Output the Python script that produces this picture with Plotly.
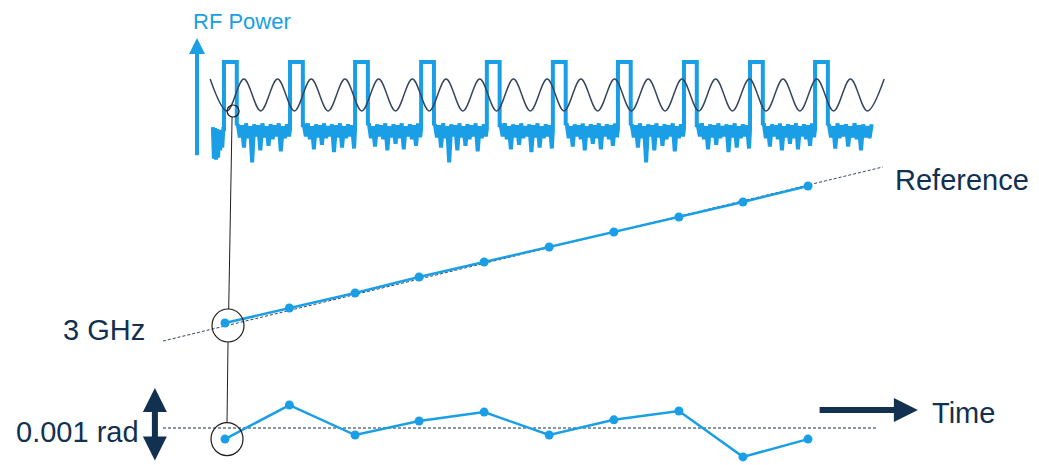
import numpy as np
import plotly.graph_objects as go

# the page body adds an 8px margin, so the figure is drawn 8px smaller
OFF = 8
W, H = 1039 - OFF, 465 - OFF
BLUE = "#1a9fe6"
NAVY = "#12304f"
WAVE = "#34465e"
FONT = "Liberation Sans, Arial, sans-serif"

# time is measured in carrier cycles (3 GHz period)
pulse_starts = [0.41, 2.37, 4.30, 6.26, 8.21, 10.17, 12.10, 14.06, 16.02, 17.95]
pulse_width = 0.38
pulse_top = 1.0
noise_end = 19.63

# RF floor between pulses (power, arb. units)
lead_in_noise = [0.30, -0.04, 0.29, -0.05, 0.28, -0.03, 0.27, 0.05, 0.26, 0.08, 0.28]
floor_noise = [
    [0.33, 0.19, 0.32, 0.08, 0.34, 0.18, 0.31, -0.08, 0.33, 0.20, 0.32, 0.05, 0.34,
     0.19, 0.31, 0.10, 0.33, 0.17, 0.32, 0.20, 0.34, 0.04, 0.31, 0.18, 0.33, 0.20],
    [0.32, 0.20, 0.34, 0.17, 0.31, 0.06, 0.33, 0.19, 0.32, 0.11, 0.34, 0.18, 0.31,
     0.20, 0.33, 0.03, 0.32, 0.19, 0.34, 0.08, 0.31, 0.18, 0.33, 0.20, 0.32, 0.07],
    [0.34, 0.18, 0.31, 0.09, 0.33, 0.20, 0.32, 0.17, 0.34, 0.05, 0.31, 0.19, 0.33,
     0.12, 0.32, 0.18, 0.34, 0.06, 0.31, 0.20, 0.33, 0.17, 0.32, 0.10, 0.34, 0.19],
]
tail_noise = [0.33, 0.19, 0.31, 0.07, 0.34, 0.18, 0.32, 0.20, 0.33, 0.09, 0.31,
              0.19, 0.34, 0.17, 0.32, 0.05, 0.33, 0.19, 0.31, 0.18, 0.33]

# 3 GHz reference waveform, read as its peaks and troughs
carrier_t = [0, 0.5, 1, 1.5, 2, 2.5, 3, 3.5, 4, 4.5, 5, 5.5, 6, 6.5, 7, 7.5, 8,
             8.5, 9, 9.5, 10, 10.5, 11, 11.5, 12, 12.5, 13, 13.5, 14, 14.5, 15,
             15.5, 16, 16.5, 17, 17.5, 18, 18.5, 19, 19.5, 20]
carrier_level = [1, -1, 1, -1, 1, -1, 1, -1, 1, -1, 1, -1, 1, -1, 1, -1, 1,
                 -1, 1, -1, 1, -1, 1, -1, 1, -1, 1, -1, 1, -1, 1,
                 -1, 1, -1, 1, -1, 1, -1, 1, -1, 1]

# sampled phase vs the reference ramp
sample_t = [0.44, 2.35, 4.30, 6.20, 8.13, 10.06, 11.98, 13.91, 15.81, 17.74]
tracked_phase = [1.8, 3.3, 4.8, 6.4, 7.9, 9.4, 10.9, 12.4, 13.9, 15.5]
reference_t = [-1.40, 19.96]
reference_phase = [0.0, 17.4]

# residual phase error, microradians
phase_error = [-150, 310, -95, 95, 215, -95, 110, 230, -390, -150]
zero_t = [-1.40, 19.79]
zero_level = [0, 0]
scale_bar = [-460, 540]  # 0.001 rad

X_RANGE = [-5.999, 24.595]
RF_RANGE = [-3.3333, 1.5806]
WAVE_RANGE = [-23.125, 5.4375]
PHASE_RANGE = [-12.4, 33.3]
ERR_RANGE = [-499.5, 5670.0]


def paper_y(value, rng):
    return (value - rng[0]) / (rng[1] - rng[0])


def px(x):
    return (x - OFF) / W


def py(y):
    return 1 - (y - OFF) / H


# assemble the pulse train
rf_t, rf_p = [], []
lead_t = np.linspace(pulse_starts[0] - 0.33, pulse_starts[0] - 0.02, len(lead_in_noise))
rf_t += list(lead_t)
rf_p += lead_in_noise
for k, start in enumerate(pulse_starts):
    stop = start + pulse_width
    rf_t += [start, start, stop, stop]
    rf_p += [0.28, pulse_top, pulse_top, 0.32]
    if k + 1 < len(pulse_starts):
        seg = floor_noise[k % len(floor_noise)]
        gap_t = np.linspace(stop + 0.03, pulse_starts[k + 1] - 0.03, len(seg))
    else:
        seg = tail_noise
        gap_t = np.linspace(stop + 0.03, noise_end, len(seg))
    rf_t += list(gap_t)
    rf_p += seg

fig = go.Figure()
fig.add_trace(go.Scatter(x=rf_t, y=rf_p, mode="lines", yaxis="y",
                         line=dict(color=BLUE, width=4, simplify=False)))
fig.add_trace(go.Scatter(x=carrier_t, y=carrier_level, mode="lines", yaxis="y2",
                         line=dict(color=WAVE, width=1.5, shape="spline")))
fig.add_trace(go.Scatter(x=reference_t, y=reference_phase, mode="lines", yaxis="y3",
                         line=dict(color=WAVE, width=1, dash="3px,2px")))
fig.add_trace(go.Scatter(x=sample_t, y=tracked_phase, mode="lines+markers", yaxis="y3",
                         line=dict(color=BLUE, width=2.5),
                         marker=dict(color=BLUE, size=9)))
fig.add_trace(go.Scatter(x=zero_t, y=zero_level, mode="lines", yaxis="y4",
                         line=dict(color=NAVY, width=1.2, dash="3px,2px")))
fig.add_trace(go.Scatter(x=sample_t, y=phase_error, mode="lines+markers", yaxis="y4",
                         line=dict(color=BLUE, width=2.5),
                         marker=dict(color=BLUE, size=9)))

ring = dict(color="#1e1e1e", width=1.2)
shapes = [
    dict(type="circle", xref="x", yref="y2", xsizemode="pixel", ysizemode="pixel",
         xanchor=0.68, yanchor=-1, x0=-6, x1=6, y0=-6, y1=6, line=ring),
    dict(type="circle", xref="x", yref="y3", xsizemode="pixel", ysizemode="pixel",
         xanchor=0.53, yanchor=1.55, x0=-16, x1=16, y0=-16.5, y1=16.5, line=ring),
    dict(type="circle", xref="x", yref="y4", xsizemode="pixel", ysizemode="pixel",
         xanchor=0.50, yanchor=-150, x0=-16, x1=16, y0=-16.5, y1=16.5, line=ring),
    dict(type="line", xref="x", yref="paper", line=dict(color="#1e1e1e", width=1),
         x0=0.65, y0=paper_y(-1, WAVE_RANGE) - 6 / H,
         x1=0.55, y1=paper_y(1.55, PHASE_RANGE) + 16.5 / H),
    dict(type="line", xref="x", yref="paper", line=dict(color="#1e1e1e", width=1),
         x0=0.53, y0=paper_y(1.55, PHASE_RANGE) - 16.5 / H,
         x1=0.50, y1=paper_y(-150, ERR_RANGE) + 16.5 / H),
]

label = dict(family=FONT, color=NAVY, size=29)
annotations = [
    dict(text="RF Power", xref="paper", yref="paper", x=px(191), y=py(21),
         xanchor="left", yanchor="middle", showarrow=False,
         font=dict(family=FONT, color=BLUE, size=22)),
    dict(text="Reference", xref="paper", yref="paper", x=px(893), y=py(180),
         xanchor="left", yanchor="middle", showarrow=False, font=label),
    dict(text="3 GHz", xref="paper", yref="paper", x=px(147), y=py(330),
         xanchor="right", yanchor="middle", showarrow=False, font=label),
    dict(text="0.001 rad", xref="paper", yref="paper", x=px(141), y=py(432),
         xanchor="right", yanchor="middle", showarrow=False, font=label),
    dict(text="Time", xref="paper", yref="paper", x=px(930), y=py(413),
         xanchor="left", yanchor="middle", showarrow=False, font=label),
    # RF power axis arrow
    dict(text="", xref="x", yref="y", axref="x", ayref="y",
         x=-0.39, y=1.258, ax=-0.39, ay=-0.02, showarrow=True,
         arrowhead=2, arrowsize=0.8, arrowwidth=4, arrowcolor=BLUE),
    # 0.001 rad scale bar
    dict(text="", xref="x", yref="y4", axref="x", ayref="y4",
         x=-1.64, y=scale_bar[1], ax=-1.64, ay=scale_bar[0], showarrow=True,
         arrowside="end+start", arrowhead=2, startarrowhead=2,
         arrowsize=0.8, startarrowsize=0.8, arrowwidth=6, arrowcolor=NAVY),
    # time arrow
    dict(text="", xref="x", yref="y4", axref="x", ayref="y4",
         x=21.0, y=243, ax=18.04, ay=243, showarrow=True,
         arrowhead=2, arrowsize=0.8, arrowwidth=6, arrowcolor=NAVY),
]

hidden = dict(visible=False, fixedrange=True)
fig.update_layout(
    width=W, height=H,
    margin=dict(l=0, r=0, t=0, b=0),
    paper_bgcolor="white", plot_bgcolor="white",
    showlegend=False,
    xaxis=dict(range=X_RANGE, domain=[0, 1], **hidden),
    yaxis=dict(range=RF_RANGE, domain=[0, 1], **hidden),
    yaxis2=dict(range=WAVE_RANGE, overlaying="y", **hidden),
    yaxis3=dict(range=PHASE_RANGE, overlaying="y", **hidden),
    yaxis4=dict(range=ERR_RANGE, overlaying="y", **hidden),
    shapes=shapes,
    annotations=annotations,
)

fig.write_html("out.html")
